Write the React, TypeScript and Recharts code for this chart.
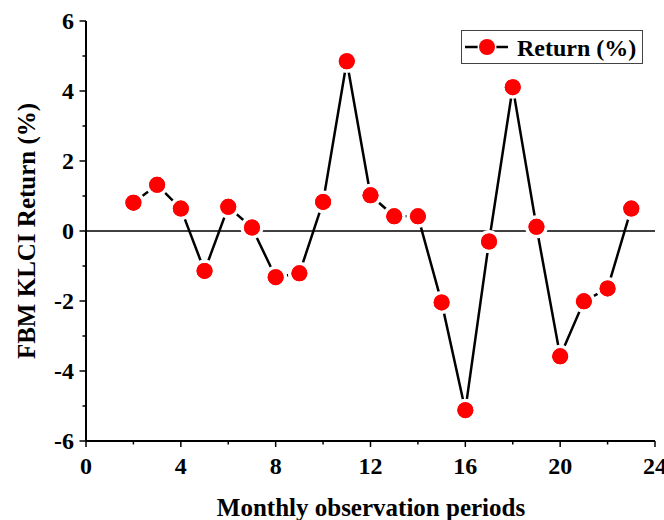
import {
    LineChart,
    Line,
    XAxis,
    YAxis,
    ReferenceLine,
    Legend,
} from 'recharts';

// monthly observation periods and FBM KLCI monthly returns (%)
const periods = [2, 3, 4, 5, 6, 7, 8, 9, 10, 11, 12, 13, 14, 15, 16, 17, 18, 19, 20, 21, 22, 23];
const returns = [
    0.81, 1.32, 0.64, -1.14, 0.69, 0.1, -1.32, -1.21, 0.83, 4.85, 1.02,
    0.42, 0.42, -2.04, -5.12, -0.3, 4.11, 0.12, -3.58, -2.01, -1.64, 0.64,
];

const xTicks = [0, 2, 4, 6, 8, 10, 12, 14, 16, 18, 20, 22, 24];
const xFrameTicks = [4, 8, 12, 16, 20];
const yTicks = [-6, -5, -4, -3, -2, -1, 0, 1, 2, 3, 4, 5, 6];
const yFrameTicks = [-4, -2, 2, 4];

const seriesName = 'Return (%)';
const xTitle = 'Monthly observation periods';
const yTitle = 'FBM KLCI Return (%)';

const data = periods.map((p, i) => ({ period: p, value: returns[i] }));

const FONT = '"Liberation Serif", "Times New Roman", serif';
const RED = '#ff0000';

const isMajorX = (v: number) => v % 4 === 0;
const isMajorY = (v: number) => v % 2 === 0;

// bottom axis: outward ticks, labels only on majors
const BottomTick = ({ x, y, payload }: any) => {
    const major = isMajorX(payload.value);
    return (
        <g>
            <line x1={x} x2={x} y1={y} y2={y + (major ? 6 : 3.5)} stroke="#000" strokeWidth={1.5} />
            {major && (
                <text x={x} y={y + 33} textAnchor="middle" fontFamily={FONT} fontWeight="bold" fontSize={24} fill="#000">
                    {payload.value}
                </text>
            )}
        </g>
    );
};

const LeftTick = ({ x, y, payload }: any) => {
    const major = isMajorY(payload.value);
    return (
        <g>
            <line x1={x} x2={x - (major ? 6.5 : 3.5)} y1={y} y2={y} stroke="#000" strokeWidth={1.5} />
            {major && (
                <text x={x - 12} y={y} dy="0.35em" textAnchor="end" fontFamily={FONT} fontWeight="bold" fontSize={24} fill="#000">
                    {payload.value}
                </text>
            )}
        </g>
    );
};

// frame (top / right): inward ticks, no labels
const TopTick = ({ x, y }: any) => (
    <line x1={x} x2={x} y1={y} y2={y + 6} stroke="#000" strokeWidth={1.5} />
);

const RightTick = ({ x, y }: any) => (
    <line x1={x} x2={x - 6} y1={y} y2={y} stroke="#000" strokeWidth={1.5} />
);

const LegendBox = () => (
    <svg width={182} height={34} style={{ display: 'block' }}>
        <rect x={0.5} y={0.5} width={181} height={33} fill="#fff" stroke="#444" strokeWidth={1} />
        <line x1={4} x2={47} y1={17} y2={17} stroke="#000" strokeWidth={2.5} />
        <circle cx={26} cy={17} r={9.5} fill="#fff" />
        <circle cx={26} cy={17} r={8} fill={RED} />
        <text x={56} y={26} fontFamily={FONT} fontWeight="bold" fontSize={24} fill="#000">
            {seriesName}
        </text>
    </svg>
);

export default function App() {
    return (
        <div style={{ position: 'absolute', left: 0, top: 0, width: 664, height: 520, background: '#fff' }}>
            <LineChart
                width={664}
                height={520}
                data={data}
                margin={{ top: 21, right: 9, bottom: 19, left: 0 }}
            >
                <XAxis
                    dataKey="period"
                    type="number"
                    domain={[0, 24]}
                    ticks={xTicks}
                    interval={0}
                    height={60}
                    tickSize={0}
                    tickMargin={0}
                    tickLine={false}
                    tick={<BottomTick />}
                    axisLine={{ stroke: '#000', strokeWidth: 2 }}
                    allowDataOverflow
                    label={() => (
                        <text x={371} y={516} textAnchor="middle" fontFamily={FONT} fontWeight="bold" fontSize={25} fill="#000">
                            {xTitle}
                        </text>
                    )}
                />
                <XAxis
                    xAxisId="top"
                    orientation="top"
                    type="number"
                    domain={[0, 24]}
                    ticks={xFrameTicks}
                    interval={0}
                    height={0}
                    tickSize={0}
                    tickMargin={0}
                    tickLine={false}
                    tick={<TopTick />}
                    axisLine={{ stroke: '#000', strokeWidth: 2 }}
                    allowDataOverflow
                />
                <YAxis
                    type="number"
                    domain={[-6, 6]}
                    ticks={yTicks}
                    interval={0}
                    width={86}
                    tickSize={0}
                    tickMargin={0}
                    tickLine={false}
                    tick={<LeftTick />}
                    axisLine={{ stroke: '#000', strokeWidth: 2 }}
                    allowDataOverflow
                    label={() => (
                        <text
                            x={35}
                            y={231}
                            transform="rotate(-90 35 231)"
                            textAnchor="middle"
                            fontFamily={FONT}
                            fontWeight="bold"
                            fontSize={25}
                            fill="#000"
                        >
                            {yTitle}
                        </text>
                    )}
                />
                <YAxis
                    yAxisId="right"
                    orientation="right"
                    type="number"
                    domain={[-6, 6]}
                    ticks={yFrameTicks}
                    interval={0}
                    width={0}
                    tickSize={0}
                    tickMargin={0}
                    tickLine={false}
                    tick={<RightTick />}
                    axisLine={{ stroke: '#000', strokeWidth: 2 }}
                    allowDataOverflow
                />
                {/* connecting line; white ring around markers leaves the gaps */}
                <Line
                    dataKey="value"
                    stroke="#000"
                    strokeWidth={2.5}
                    dot={{ r: 9.75, fill: RED, stroke: '#fff', strokeWidth: 3.5 }}
                    activeDot={false}
                    legendType="none"
                    isAnimationActive={false}
                />
                <ReferenceLine y={0} stroke="#000" strokeWidth={1.5} />
                <Line
                    dataKey="value"
                    stroke="none"
                    dot={{ r: 8, fill: RED, stroke: 'none' }}
                    activeDot={false}
                    legendType="none"
                    isAnimationActive={false}
                />
                <Legend
                    layout="horizontal"
                    verticalAlign="middle"
                    align="center"
                    content={() => <LegendBox />}
                    wrapperStyle={{ left: 461, top: 30, width: 182, height: 34 }}
                />
            </LineChart>
        </div>
    );
}
